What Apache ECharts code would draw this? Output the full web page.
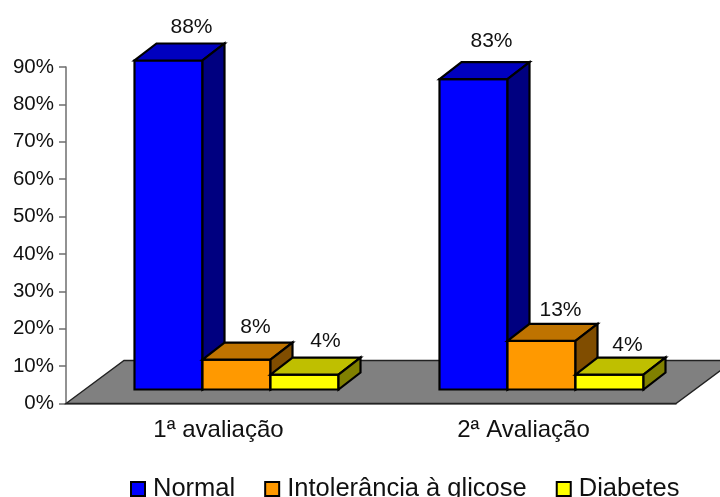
<!DOCTYPE html>
<html>
<head>
<meta charset="utf-8">
<style>html,body{margin:0;padding:0;background:#fff}#chart{width:720px;height:497px}</style>
<script src="https://cdn.jsdelivr.net/npm/echarts@6/dist/echarts.min.js"></script>
</head>
<body>
<div id="chart"></div>
<script>
const categories = ['1ª avaliação', '2ª Avaliação'];
const yTicks = [0, 10, 20, 30, 40, 50, 60, 70, 80, 90];
const normal = [88, 83];
const intolerancia = [8, 13];
const diabetes = [4, 4];

// Face colours of each box: front, top, side
const palettes = [
  ['#0000FF', '#0000BF', '#000080'],
  ['#FF9900', '#BF7300', '#804D00'],
  ['#FFFF00', '#BFBF00', '#808000']
];
const FONT = '"Liberation Sans", Arial, sans-serif';
const INK = '#111';
const AXIS = '#6e6e6e';

// Oblique projection of the chart
const FLOOR_DX = 58, FLOOR_DY = 43;   // depth of the grey floor
const BOX_DX = 22, BOX_DY = 17;       // depth of each box
const BOX_LIFT = 14;                  // boxes stand in the middle of the floor
const BAND_START = -84 / 305, BOX_W = 68 / 305;

const edge = { stroke: '#000', lineWidth: 2.2, lineJoin: 'miter' };

function face(points, fill) {
  return { type: 'polygon', shape: { points }, style: Object.assign({ fill }, edge) };
}

function boxSeries(name, values, idx, labelNudge) {
  const pal = palettes[idx];
  return {
    type: 'custom',
    name,
    coordinateSystem: 'cartesian2d',
    itemStyle: { color: pal[0], borderColor: '#000', borderWidth: 2 },
    encode: { x: 0, y: 1 },
    data: values.map((v, i) => [i, v]),
    z: 3 + idx,
    clip: false,
    renderItem(params, api) {
      const cat = api.value(0), val = api.value(1);
      const band = api.size([1, 0])[0];
      const top = api.coord([cat, val]);
      const base = api.coord([cat, 0]);
      const w = band * BOX_W;
      const x0 = base[0] + band * BAND_START + idx * w;
      const x1 = x0 + w;
      const yb = base[1] - BOX_LIFT;
      const yt = top[1] - BOX_LIFT;
      const n = labelNudge[cat];
      return {
        type: 'group',
        children: [
          face([[x0, yt], [x1, yt], [x1, yb], [x0, yb]], pal[0]),
          face([[x0, yt], [x0 + BOX_DX, yt - BOX_DY], [x1 + BOX_DX, yt - BOX_DY], [x1, yt]], pal[1]),
          face([[x1, yt], [x1 + BOX_DX, yt - BOX_DY], [x1 + BOX_DX, yb - BOX_DY], [x1, yb]], pal[2]),
          {
            type: 'text',
            z2: 50,
            style: {
              x: x0 + n[0],
              y: yt - BOX_DY - n[1],
              text: val + '%',
              fill: INK,
              font: '21px ' + FONT,
              align: 'center',
              verticalAlign: 'middle'
            }
          }
        ]
      };
    }
  };
}

const floorSeries = {
  type: 'custom',
  coordinateSystem: 'cartesian2d',
  data: [[0, 0]],
  z: 2,
  clip: false,
  silent: true,
  renderItem(params, api) {
    const g = params.coordSys;
    const y = g.y + g.height, l = g.x, r = g.x + g.width;
    return {
      type: 'polygon',
      shape: { points: [[l, y], [l + FLOOR_DX, y - FLOOR_DY], [r + FLOOR_DX, y - FLOOR_DY], [r, y]] },
      style: { fill: '#808080', stroke: '#222', lineWidth: 1.4 }
    };
  }
};

const chart = echarts.init(document.getElementById('chart'));
chart.setOption({
  animation: false,
  backgroundColor: '#fff',
  grid: { left: 66, right: 44, top: 67, bottom: 93.5 },
  xAxis: {
    type: 'category',
    data: categories,
    axisLine: { lineStyle: { color: AXIS, width: 1.5 } },
    axisTick: { length: 6, lineStyle: { color: AXIS, width: 1.5 } },
    axisLabel: { color: INK, fontFamily: FONT, fontSize: 24, margin: 15 }
  },
  yAxis: {
    type: 'value',
    min: yTicks[0],
    max: yTicks[yTicks.length - 1],
    interval: 10,
    splitLine: { show: false },
    axisLine: { show: true, lineStyle: { color: AXIS, width: 1.5 } },
    axisTick: { show: true, length: 7, lineStyle: { color: AXIS, width: 1.5 } },
    axisLabel: { color: INK, fontFamily: FONT, fontSize: 20.5, margin: 12, formatter: '{value}%' }
  },
  legend: {
    data: ['Normal', 'Intolerância à glicose', 'Diabetes'],
    left: 130,
    top: 476,
    padding: 0,
    itemWidth: 14,
    itemHeight: 14,
    itemGap: 29,
    icon: 'rect',
    textStyle: { color: INK, fontFamily: FONT, fontSize: 25.5, padding: [0, 0, 8, 3] }
  },
  series: [
    floorSeries,
    boxSeries('Normal', normal, 0, [[57, 16], [52, 21]]),
    boxSeries('Intolerância à glicose', intolerancia, 1, [[53, 15], [53, 14]]),
    boxSeries('Diabetes', diabetes, 2, [[55, 16], [52, 12]])
  ]
});
</script>
</body>
</html>
